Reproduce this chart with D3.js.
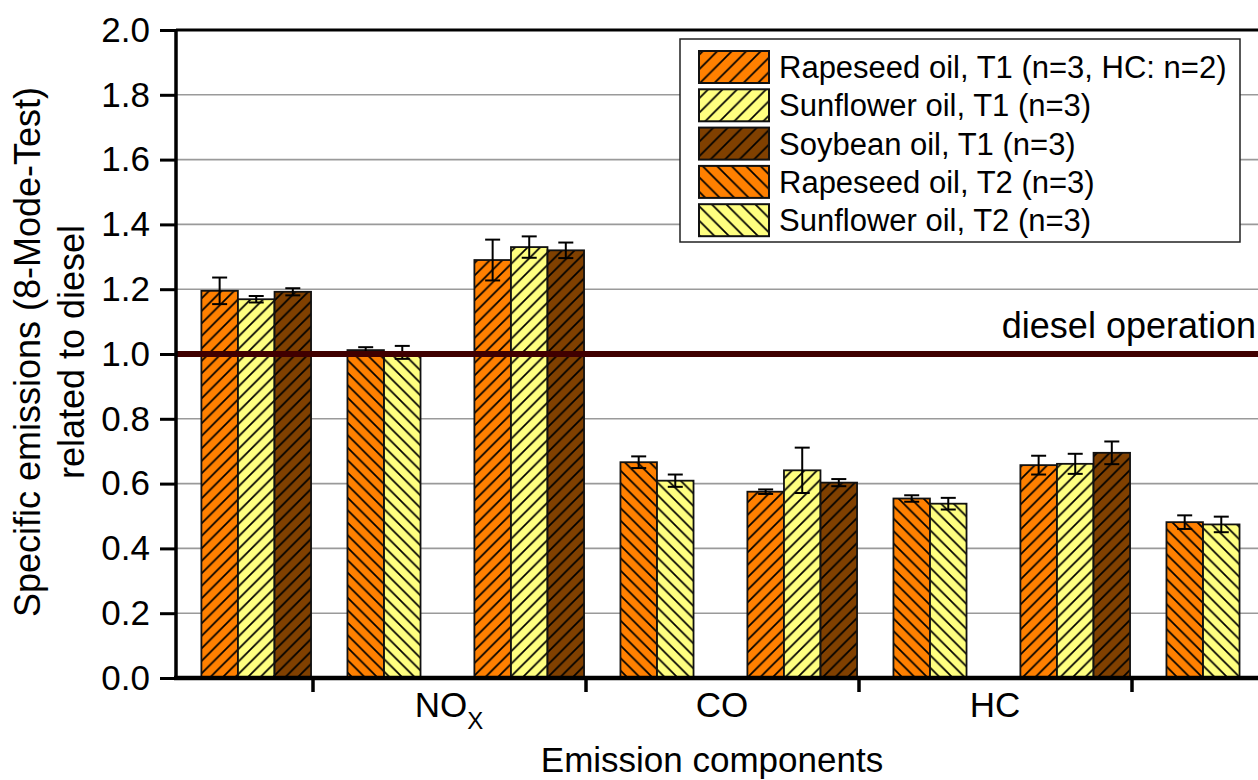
<!DOCTYPE html>
<html>
<head>
<meta charset="utf-8">
<script src="https://cdn.jsdelivr.net/npm/d3@7"></script>
<style>
  html, body { margin: 0; padding: 0; background: #fff; }
  svg { display: block; font-family: "Liberation Sans", Arial, sans-serif; }
</style>
</head>
<body>
<svg id="chart" width="1258" height="780"></svg>
<script>
// Category positions along the x axis (index = band centre); only NOx, CO, HC carry labels
const categoryLabels = ["", "NOX", "CO", "HC", ""];

// Specific emissions related to diesel (1.0 = diesel operation)
const rapeseedT1   = [1.195, 1.290, 0.575, 0.657, null];
const sunflowerT1  = [1.169, 1.330, 0.641, 0.661, null];
const soybeanT1    = [1.192, 1.320, 0.603, 0.695, null];
const rapeseedT2   = [null, 1.012, 0.666, 0.554, 0.481];
const sunflowerT2  = [null, 1.005, 0.609, 0.538, 0.474];

// Standard deviations
const rapeseedT1Err  = [0.041, 0.063, 0.007, 0.029, null];
const sunflowerT1Err = [0.010, 0.033, 0.070, 0.031, null];
const soybeanT1Err   = [0.011, 0.024, 0.011, 0.035, null];
const rapeseedT2Err  = [null, 0.009, 0.018, 0.010, 0.021];
const sunflowerT2Err = [null, 0.020, 0.019, 0.018, 0.024];

const seriesNames = [
  "Rapeseed oil, T1 (n=3, HC: n=2)",
  "Sunflower oil, T1 (n=3)",
  "Soybean oil, T1 (n=3)",
  "Rapeseed oil, T2 (n=3)",
  "Sunflower oil, T2 (n=3)"
];

const yTicks = [0, 0.2, 0.4, 0.6, 0.8, 1.0, 1.2, 1.4, 1.6, 1.8, 2.0];
const dieselLevel = 1.0;

// ---- styling / layout ----
const fills = ["#FF8000", "#FFFF80", "#804000", "#FF8000", "#FFFF80"];
const hatchDir = ["up", "up", "up", "down", "down"];
// left edge of each series' bar relative to the band centre, in category units
const slotOffset = [0.093, 0.227, 0.361, -0.372, -0.238];
const barWidth = 0.1337;

const series = [
  { name: seriesNames[0], values: rapeseedT1,  errs: rapeseedT1Err },
  { name: seriesNames[1], values: sunflowerT1, errs: sunflowerT1Err },
  { name: seriesNames[2], values: soybeanT1,   errs: soybeanT1Err },
  { name: seriesNames[3], values: rapeseedT2,  errs: rapeseedT2Err },
  { name: seriesNames[4], values: sunflowerT2, errs: sunflowerT2Err }
];

const W = 1258, H = 780;
const plotLeft = 176, plotTop = 30, plotBottom = 678;
const svg = d3.select("#chart");

const x = d3.scaleLinear().domain([0, 4]).range([plotLeft, plotLeft + 273 * 4]);
const y = d3.scaleLinear().domain([0, 2]).range([plotBottom, plotTop]);
const bw = x(barWidth) - x(0);

// hatch patterns (one set for bars, a slightly wider one for legend swatches)
const defs = svg.append("defs");
function makeHatch(id, i, P) {
  const p = defs.append("pattern")
    .attr("id", id)
    .attr("patternUnits", "userSpaceOnUse")
    .attr("width", P).attr("height", P);
  p.append("rect").attr("width", P).attr("height", P).attr("fill", fills[i]);
  const d = hatchDir[i] === "up"
    ? `M0,${P} L${P},0 M${-P/4},${P/4} L${P/4},${-P/4} M${3*P/4},${5*P/4} L${5*P/4},${3*P/4}`
    : `M0,0 L${P},${P} M${-P/4},${3*P/4} L${P/4},${5*P/4} M${3*P/4},${-P/4} L${5*P/4},${P/4}`;
  p.append("path").attr("d", d).attr("stroke", "#000").attr("stroke-width", 1.7);
}
series.forEach((s, i) => {
  makeHatch("hatch" + i, i, 12.5);
  makeHatch("legendHatch" + i, i, 14.5);
});

defs.append("clipPath").attr("id", "plotClip")
  .append("rect").attr("x", plotLeft).attr("y", 0).attr("width", W - plotLeft).attr("height", plotBottom);

// grid lines
svg.append("g")
  .selectAll("line").data(yTicks.filter(t => t > 0 && t < 2))
  .join("line")
  .attr("x1", plotLeft).attr("x2", W)
  .attr("y1", d => y(d)).attr("y2", d => y(d))
  .attr("stroke", "#9a9a9a").attr("stroke-width", 1.6);

// bars
const plot = svg.append("g").attr("clip-path", "url(#plotClip)");
series.forEach((s, si) => {
  const pts = s.values.map((v, ci) => ({ v, ci, e: s.errs[ci] })).filter(d => d.v != null);
  plot.append("g").selectAll("rect").data(pts).join("rect")
    .attr("x", d => x(d.ci + slotOffset[si]))
    .attr("y", d => y(d.v))
    .attr("width", bw)
    .attr("height", d => y(0) - y(d.v))
    .attr("fill", `url(#hatch${si})`)
    .attr("stroke", "#111").attr("stroke-width", 1.8);
});

// error bars
series.forEach((s, si) => {
  const pts = s.values.map((v, ci) => ({ v, ci, e: s.errs[ci] })).filter(d => d.v != null && d.e != null);
  const g = plot.append("g").attr("stroke", "#000").attr("stroke-width", 2).attr("fill", "none");
  pts.forEach(d => {
    const cx = x(d.ci + slotOffset[si]) + bw / 2;
    const y1 = y(d.v + d.e), y2 = y(d.v - d.e);
    g.append("line").attr("x1", cx).attr("x2", cx).attr("y1", y1).attr("y2", y2);
    g.append("line").attr("x1", cx - 7.5).attr("x2", cx + 7.5).attr("y1", y1).attr("y2", y1);
    g.append("line").attr("x1", cx - 7.5).attr("x2", cx + 7.5).attr("y1", y2).attr("y2", y2);
  });
});

// diesel reference line
svg.append("line")
  .attr("x1", plotLeft).attr("x2", W)
  .attr("y1", y(dieselLevel)).attr("y2", y(dieselLevel))
  .attr("stroke", "#400000").attr("stroke-width", 6);
svg.append("text")
  .attr("x", 1256).attr("y", y(dieselLevel) - 16)
  .attr("text-anchor", "end")
  .attr("font-size", 36)
  .text("diesel operation");

// top frame line
svg.append("line")
  .attr("x1", plotLeft).attr("x2", W)
  .attr("y1", plotTop).attr("y2", plotTop)
  .attr("stroke", "#000").attr("stroke-width", 3);

// y axis
const yAxis = d3.axisLeft(y).tickValues(yTicks).tickSize(16).tickPadding(10)
  .tickFormat(d3.format(".1f"));
const gy = svg.append("g").attr("transform", `translate(${plotLeft},0)`).call(yAxis);
gy.select(".domain").attr("stroke", "#000").attr("stroke-width", 3.5)
  .attr("d", `M0,${plotTop}V${plotBottom + 2}`);
gy.selectAll(".tick line").attr("stroke", "#000").attr("stroke-width", 3);
gy.selectAll(".tick text").attr("font-size", 35).attr("fill", "#000")
  .attr("font-family", "Liberation Sans, Arial, sans-serif");

// x axis: ticks on the boundaries between categories
const xBoundaries = [0.5, 1.5, 2.5, 3.5];
const xAxis = d3.axisBottom(x).tickValues(xBoundaries).tickSize(14).tickFormat("");
const gx = svg.append("g").attr("transform", `translate(0,${plotBottom})`).call(xAxis);
gx.select(".domain").attr("stroke", "#000").attr("stroke-width", 4.5)
  .attr("d", `M${plotLeft - 2},0H${W}`);
gx.selectAll(".tick line").attr("stroke", "#000").attr("stroke-width", 3.5);

// category labels
const labG = svg.append("g").attr("font-size", 35).attr("text-anchor", "middle");
categoryLabels.forEach((lab, i) => {
  if (!lab) return;
  const t = labG.append("text").attr("x", x(i)).attr("y", 717);
  if (lab === "NOX") {
    t.append("tspan").text("NO");
    t.append("tspan").attr("font-size", 24).attr("dy", 12).text("X");
  } else {
    t.text(lab);
  }
});

// axis titles
svg.append("text")
  .attr("x", 712).attr("y", 772)
  .attr("text-anchor", "middle").attr("font-size", 35)
  .text("Emission components");

const yTitle = svg.append("g").attr("font-size", 36).attr("text-anchor", "middle");
yTitle.append("text")
  .attr("transform", "translate(40,352) rotate(-90)")
  .text("Specific emissions (8-Mode-Test)");
yTitle.append("text")
  .attr("transform", "translate(84,352) rotate(-90)")
  .text("related to diesel");

// legend
const lg = svg.append("g");
lg.append("rect")
  .attr("x", 680).attr("y", 39).attr("width", 560).attr("height", 203)
  .attr("fill", "#fff").attr("stroke", "#222").attr("stroke-width", 1.5);
series.forEach((s, i) => {
  const yy = 51 + i * 38.3;
  lg.append("rect")
    .attr("x", 699).attr("y", yy).attr("width", 70).attr("height", 32)
    .attr("fill", `url(#legendHatch${i})`).attr("stroke", "#111").attr("stroke-width", 2);
  lg.append("text")
    .attr("x", 779).attr("y", yy + 27)
    .attr("font-size", 31)
    .text(s.name);
});
</script>
</body>
</html>
